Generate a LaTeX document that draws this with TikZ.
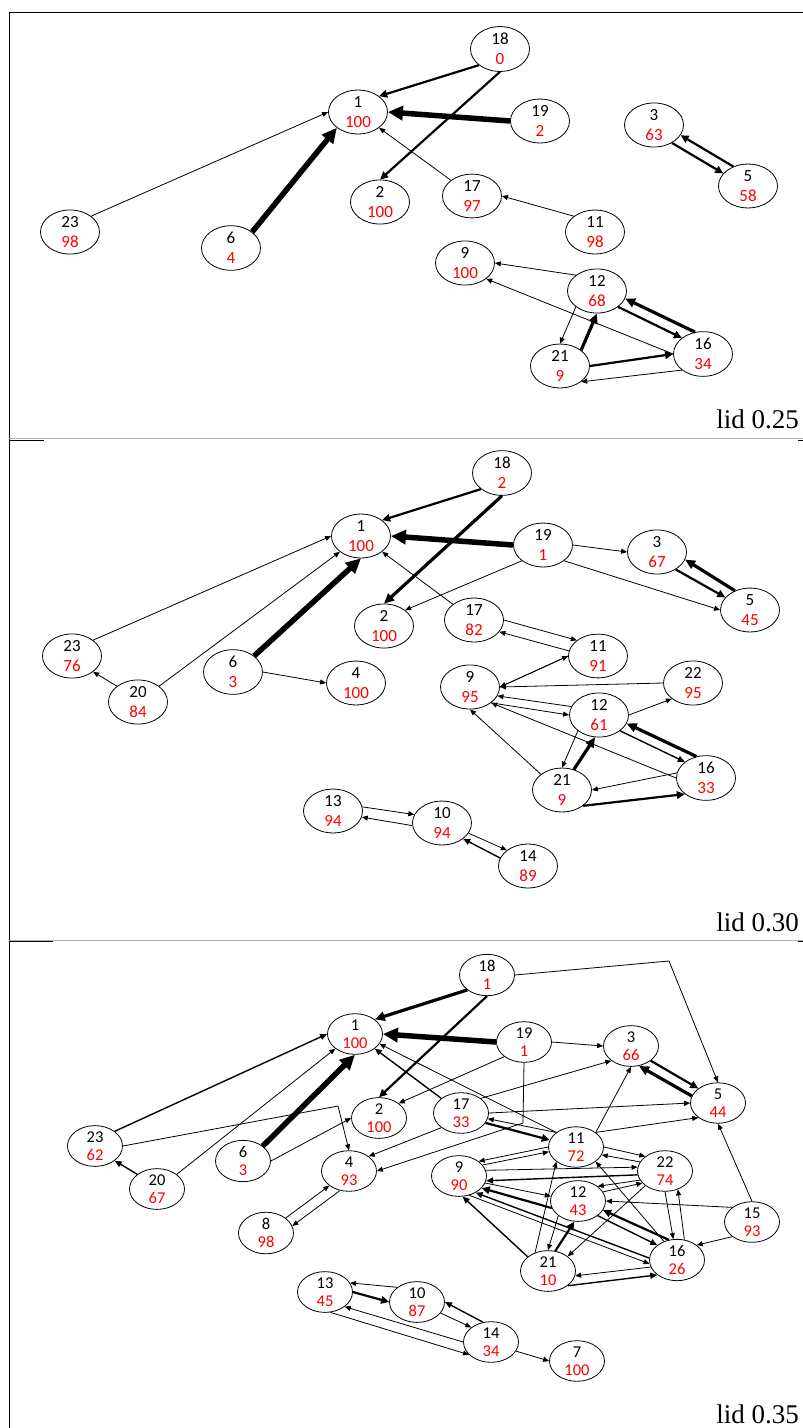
\documentclass[tikz,border=0pt]{standalone}
\usepackage{fontspec}
\newfontfamily\nodefont{Carlito}
\newfontfamily\lidfont{Liberation Serif}
\usetikzlibrary{shapes.geometric,arrows.meta}
\tikzset{
  gn/.style={ellipse, draw, line width=0.8pt, minimum width=59pt, minimum height=43pt, inner sep=0pt, align=center, font=\nodefont\fontsize{17}{20}\selectfont},
  gs/.style={gn, minimum width=55pt, minimum height=40pt, font=\nodefont\fontsize{16.5}{18}\selectfont},
  e1/.style={line width=0.8pt, -{Triangle[length=6pt,width=5pt]}},
  e2/.style={line width=1.4pt, -{Triangle[length=7pt,width=6pt]}},
  e3/.style={line width=2.2pt, -{Triangle[length=8pt,width=7.5pt]}},
  e4/.style={line width=3.2pt, -{Triangle[length=10pt,width=9pt]}},
  e5/.style={line width=5.5pt, -{Triangle[length=15pt,width=14pt]}},
  frame/.style={line width=0.8pt},
  sep/.style={line width=0.8pt, black!30},
  lidlbl/.style={inner sep=0pt, anchor=base east, font=\lidfont\fontsize{27}{30}\selectfont}
}
\newcommand\mknode[6]{\node[#1] (#2) at (#3,#4) {#5\\\textcolor{red}{#6}};}
\begin{document}
\begin{tikzpicture}[x=1pt,y=-1pt]
\useasboundingbox (0,0) rectangle (803,1428);
% frames
\draw[frame] (9,1428) -- (9,12) -- (803,12);
\draw[sep] (9,438.5) -- (803,438.5);
\draw[sep] (9,940.5) -- (803,940.5);
\draw[frame] (9,440) -- (44,440);
\draw[frame] (9,941.5) -- (53,941.5);
\draw[frame] (798,440) -- (803,440);
\draw[frame] (798,941.5) -- (803,941.5);
\node[lidlbl] (l1) at (799,428) {lid 0.25};
\node[lidlbl] (l2) at (799,931) {lid 0.30};
\node[lidlbl] (l3) at (799,1423) {lid 0.35};

% ---------------- panel 1
\mknode{gn}{a1}{358}{112}{1}{100}
\mknode{gn}{a2}{380}{202}{2}{100}
\mknode{gn}{a23}{70}{232}{23}{98}
\mknode{gn}{a6}{231}{248}{6}{4}
\mknode{gn}{a18}{500}{49}{18}{0}
\mknode{gn}{a19}{540}{121}{19}{2}
\mknode{gn}{a3}{654}{125}{3}{63}
\mknode{gn}{a5}{748}{186}{5}{58}
\mknode{gn}{a17}{472}{196}{17}{97}
\mknode{gn}{a11}{595}{232}{11}{98}
\mknode{gn}{a9}{465}{263}{9}{100}
\mknode{gn}{a12}{597}{291}{12}{68}
\mknode{gn}{a16}{703}{354}{16}{34}
\mknode{gn}{a21}{560}{366}{21}{9}

\draw[e1] (a23.north east) -- (a1.west);
\draw[e5] (a6.north east) -- (a1.south west);
\draw[e3] (a18.south west) -- (a1.north east);
\draw[e3] (a18.south) -- (a2.north);
\draw[e5] (a19.west) -- (a1.east);
\draw[e1] (a17.north west) -- (a1.south east);
\draw[e1] (a11.north west) -- (a17.east);
\draw[e3] (a3.-45) -- (a5.153);
\draw[e3] (a5.127) -- (a3.-21);
\draw[e1] (a12.north west) -- (a9.east);
\draw[e1] (a16.west) -- (a9.south east);
\draw[e1] (a12.south west) -- (a21.north);
\draw[e4] (a21.north east) -- (a12.south);
\draw[e3] (a12.south east) -- (a16.north west);
\draw[e4] (a16.110) -- (a12.-15);
\draw[e3] (a21.east) -- (a16.west);
\draw[e1] (a16.south west) -- (a21.south east);

% ---------------- panel 2
\mknode{gn}{b1}{361}{536}{1}{100}
\mknode{gn}{b2}{384}{626}{2}{100}
\mknode{gn}{b23}{72}{656}{23}{76}
\mknode{gn}{b20}{138}{702}{20}{84}
\mknode{gn}{b6}{233}{672}{6}{3}
\mknode{gn}{b4}{356}{683}{4}{100}
\mknode{gn}{b13}{333}{811}{13}{94}
\mknode{gn}{b18}{502}{473}{18}{2}
\mknode{gn}{b19}{543}{545}{19}{1}
\mknode{gn}{b3}{657}{552}{3}{67}
\mknode{gn}{b5}{750}{610}{5}{45}
\mknode{gn}{b17}{474}{620}{17}{82}
\mknode{gn}{b11}{598}{656}{11}{91}
\mknode{gn}{b9}{470}{687}{9}{95}
\mknode{gn}{b22}{693}{683}{22}{95}
\mknode{gn}{b12}{599}{715}{12}{61}
\mknode{gn}{b16}{706}{778}{16}{33}
\mknode{gn}{b21}{562}{790}{21}{9}
\mknode{gn}{b10}{442}{823}{10}{94}
\mknode{gn}{b14}{528}{866}{14}{89}

\draw[e1] (b23.north east) -- (b1.west);
\draw[e1] (b20.north east) -- (b1.south west);
\draw[e1] (b20.north west) -- (b23.south east);
\draw[e5] (b6.north east) -- (b1.south);
\draw[e1] (b6.east) -- (b4.west);
\draw[e3] (b18.south west) -- (b1.north east);
\draw[e4] (b18.south) -- (b2.north);
\draw[e5] (b19.west) -- (b1.east);
\draw[e1] (b17.north west) -- (b1.south east);
\draw[e1] (b19.south west) -- (b2.north east);
\draw[e1] (b19.east) -- (b3.west);
\draw[e1] (b19.south east) -- (b5.west);
\draw[e3] (b3.-43) -- (b5.153);
\draw[e4] (b5.128) -- (b3.-15);
\draw[e1] (b17.east) -- (b11.north west);
\draw[e1] (b11.170) -- (b17.-25);
\draw[e1] (b9.east) -- (b11.west);
\draw[e1] (b11.west) -- (b9.east);
\draw[e1] (b22.west) -- (b9.east);
\draw[e1] (b12.163) -- (b9.-18);
\draw[e1] (b9.south east) -- (b12.west);
\draw[e1] (b16.west) -- (b9.south east);
\draw[e1] (b21.north west) -- (b9.south);
\draw[e1] (b12.east) -- (b22.south west);
\draw[e1] (b12.south west) -- (b21.north);
\draw[e4] (b21.60) -- (b12.-100);
\draw[e2] (b12.south east) -- (b16.north west);
\draw[e4] (b16.114) -- (b12.-17);
\draw[e1] (b16.170) -- (b21.east);
\draw[e3] (b21.south east) -- (b16.south west);
\draw[e1] (b13.8) -- (b10.163);
\draw[e1] (b10.185) -- (b13.-12);
\draw[e1] (b10.-21) -- (b14.north west);
\draw[e2] (b14.164) -- (b10.south east);

% ---------------- panel 3
\mknode{gs}{c1}{355}{1034}{1}{100}
\mknode{gs}{c2}{379}{1118}{2}{100}
\mknode{gs}{c23}{95}{1146}{23}{62}
\mknode{gs}{c20}{157}{1189}{20}{67}
\mknode{gs}{c6}{243}{1161}{6}{3}
\mknode{gs}{c4}{349}{1171}{4}{93}
\mknode{gs}{c8}{266}{1233}{8}{98}
\mknode{gs}{c18}{487}{975}{18}{1}
\mknode{gs}{c19}{524}{1042}{19}{1}
\mknode{gs}{c3}{631}{1046}{3}{66}
\mknode{gs}{c5}{718}{1103}{5}{44}
\mknode{gs}{c17}{461}{1113}{17}{33}
\mknode{gs}{c11}{576}{1147}{11}{72}
\mknode{gs}{c22}{665}{1171}{22}{74}
\mknode{gs}{c9}{459}{1176}{9}{90}
\mknode{gs}{c12}{578}{1201}{12}{43}
\mknode{gs}{c15}{752}{1222}{15}{93}
\mknode{gs}{c16}{677}{1260}{16}{26}
\mknode{gs}{c21}{548}{1271}{21}{10}
\mknode{gs}{c13}{325}{1292}{13}{45}
\mknode{gs}{c10}{417}{1302}{10}{87}
\mknode{gs}{c14}{491}{1342}{14}{34}
\mknode{gs}{c7}{577}{1361}{7}{100}

\coordinate (k1) at (338,1106);
\coordinate (k2) at (523,1123);
\coordinate (k3) at (669,961);

\draw[e2] (c23.north east) -- (c1.west);
\draw[e1] (c20.north east) -- (c1.south west);
\draw[e2] (c20.north west) -- (c23.south east);
\draw[e5] (c6.north east) -- (c1.south);
\draw[e1] (c6.east) -- (c2.west);
\draw[e1] (c23.east) -- (k1) -- (c4.north);
\draw[e1] (c8.north east) -- (c4.south west);
\draw[e1] (c4.-115) -- (c8.15);
\draw[e2] (c17.north west) -- (c1.south east);
\draw[e1] (c11.north west) -- (c1.-22);
\draw[e4] (c18.south west) -- (c1.north east);
\draw[e3] (c18.south) -- (c2.north);
\draw[e5] (c19.west) -- (c1.east);
\draw[e1] (c19.east) -- (c3.west);
\draw[e1] (c19.south west) -- (c2.north east);
\draw[e1] (c19.south) -- (k2) -- (c4.east);
\draw[e1] (c17.south west) -- (c4.north east);
\draw[e1] (c17.north east) -- (c3.south west);
\draw[e1] (c17.east) -- (c5.west);
\draw[e1] (c18.east) -- (k3) -- (c5.north);
\draw[e3] (c3.south east) -- (c5.north west);
\draw[e4] (c5.165) -- (c3.-68);
\draw[e1] (c11.north east) -- (c3.south);
\draw[e1] (c11.north east) -- (c5.south west);
\draw[e3] (c17.-22) -- (c11.165);
\draw[e1] (c11.north west) -- (c17.-12);
\draw[e1] (c11.west) -- (c9.north east);
\draw[e1] (c9.25) -- (c11.190);
\draw[e1] (c9.12) -- (c22.172);
\draw[e2] (c22.188) -- (c9.-10);
\draw[e1] (c9.-15) -- (c12.170);
\draw[e3] (c12.195) -- (c9.-28);
\draw[e1] (c9.-62) -- (c16.188);
\draw[e2] (c16.176) -- (c9.-45);
\draw[e2] (c21.145) -- (c9.-80);
\draw[e1] (c21.125) -- (c11.south west);
\draw[e1] (c12.south west) -- (c21.north);
\draw[e3] (c21.70) -- (c12.-100);
\draw[e1] (c22.south west) -- (c21.north east);
\draw[e1] (c22.200) -- (c12.north east);
\draw[e1] (c12.20) -- (c22.-152);
\draw[e1] (c11.east) -- (c22.north west);
\draw[e1] (c22.160) -- (c11.-17);
\draw[e1] (c16.125) -- (c11.south east);
\draw[e2] (c12.south east) -- (c16.north west);
\draw[e3] (c16.112) -- (c12.-20);
\draw[e1] (c22.south) -- (c16.100);
\draw[e1] (c16.70) -- (c22.-55);
\draw[e1] (c15.north west) -- (c12.east);
\draw[e1] (c15.south west) -- (c16.north east);
\draw[e1] (c15.north) -- (c5.south);
\draw[e1] (c16.195) -- (c21.-10);
\draw[e2] (c21.south east) -- (c16.south west);
\draw[e1] (c10.north west) -- (c13.20);
\draw[e3] (c13.east) -- (c10.west);
\draw[e1] (c10.-25) -- (c14.north west);
\draw[e2] (c14.112) -- (c10.east);
\draw[e1] (c14.west) -- (c13.south east);
\draw[e1] (c13.-75) -- (c14.-150);
\draw[e1] (c14.-20) -- (c7.west);
\end{tikzpicture}
\end{document}
